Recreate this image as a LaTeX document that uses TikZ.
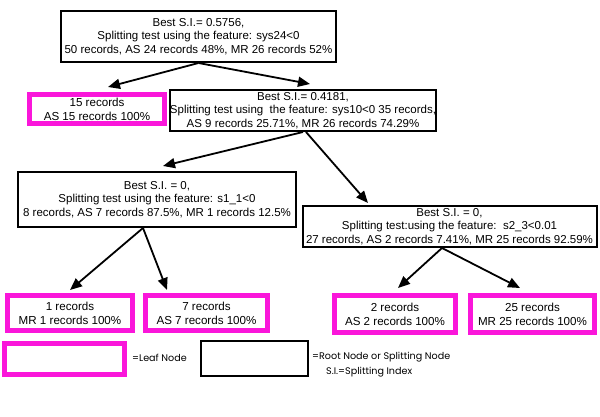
\documentclass[tikz,border=0pt]{standalone}
\usepackage{fontspec}
\setmainfont{Liberation Sans}
\newfontfamily\legendfont{Poppins}
\usetikzlibrary{arrows.meta}
\definecolor{leafpink}{RGB}{250,22,218}
\tikzset{
  splitbox/.style={draw=black, line width=2pt, fill=white, align=center, inner sep=0pt,
    font=\fontsize{11.5}{13.6}\selectfont},
  leafbox/.style={draw=leafpink, line width=5pt, fill=white, align=center, inner sep=0pt,
    font=\fontsize{11.6}{14}\selectfont},
  conn/.style={line width=1.8pt, -{Triangle[length=12pt,width=10pt]}},
  legendtext/.style={anchor=west, inner sep=0pt, font=\legendfont\fontsize{9.6}{11}\selectfont}
}
\begin{document}
\begin{tikzpicture}[x=1pt,y=-1pt]
\useasboundingbox (0,0) rectangle (600,417);
% split nodes
\node[splitbox, minimum width=275pt, minimum height=51pt] (root) at (198.5,36.5)
  {Best S.I.= 0.5756,\\Splitting test using the feature: sys24<0\\50 records, AS 24 records 48\%, MR 26 records 52\%};
\node[splitbox, minimum width=258pt, minimum height=41pt] (n2) at (303,110.5)
  {Best S.I.= 0.4181,\\Splitting test using\ \ the feature: sys10<0 35 records,\\AS 9 records 25.71\%, MR 26 records 74.29\%};
\node[splitbox, minimum width=278pt, minimum height=55pt] (n3) at (157,199.5)
  {Best S.I. = 0,\\Splitting test using the feature: s1\_1<0\\8 records, AS 7 records 87.5\%, MR 1 records 12.5\%};
\node[splitbox, minimum width=294pt, minimum height=41pt] (n4) at (449.5,226.5)
  {Best S.I. = 0,\\Splitting test:using the feature:\ \ s2\_3<0.01\\27 records, AS 2 records 7.41\%, MR 25 records 92.59\%};
% leaves
\node[leafbox, minimum width=135pt, minimum height=29pt] (l15) at (97,109)
  {15 records\\AS 15 records 100\%};
\node[leafbox, minimum width=125pt, minimum height=35pt] (l1) at (70,313)
  {1 records\\MR 1 records 100\%};
\node[leafbox, minimum width=122pt, minimum height=35pt] (l7) at (206.5,313)
  {7 records\\AS 7 records 100\%};
\node[leafbox, minimum width=121pt, minimum height=37pt] (l2) at (395,314)
  {2 records\\AS 2 records 100\%};
\node[leafbox, minimum width=124pt, minimum height=37pt] (l25) at (532.5,314)
  {25 records\\MR 25 records 100\%};
% connectors
\draw[conn] (root.south) -- ([xshift=11pt,yshift=5pt]l15.north);
\draw[conn] (root.south) -- ([xshift=7pt,yshift=5pt]n2.north);
\draw[conn] (n2.south) -- ([xshift=6pt,yshift=5pt]n3.north);
\draw[conn] ([xshift=3pt]n2.south) -- ([xshift=-81.5pt,yshift=2pt]n4.north);
\draw[conn] ([xshift=-14pt]n3.south) -- ([yshift=3pt]l1.north);
\draw[conn] ([xshift=-14pt]n3.south) -- ([xshift=-39.5pt,yshift=3pt]l7.north);
\draw[conn] ([xshift=-7.5pt]n4.south) -- ([xshift=3pt,yshift=5pt]l2.north);
\draw[conn] ([xshift=-7.5pt]n4.south) -- ([xshift=-12.5pt,yshift=5pt]l25.north);
% legend
\node[leafbox, minimum width=120pt, minimum height=31pt] (legleaf) at (64.5,359) {};
\node[splitbox, minimum width=107pt, minimum height=35pt] (legsplit) at (254.5,358.5) {};
\node[legendtext] (legleaftxt) at (132,358) {=Leaf Node};
\node[legendtext] (legsplittxt) at (312,357) {=Root Node or Splitting Node};
\node[legendtext] (legsitxt) at (326,372.5) {S.I.=Splitting Index};
\end{tikzpicture}
\end{document}
